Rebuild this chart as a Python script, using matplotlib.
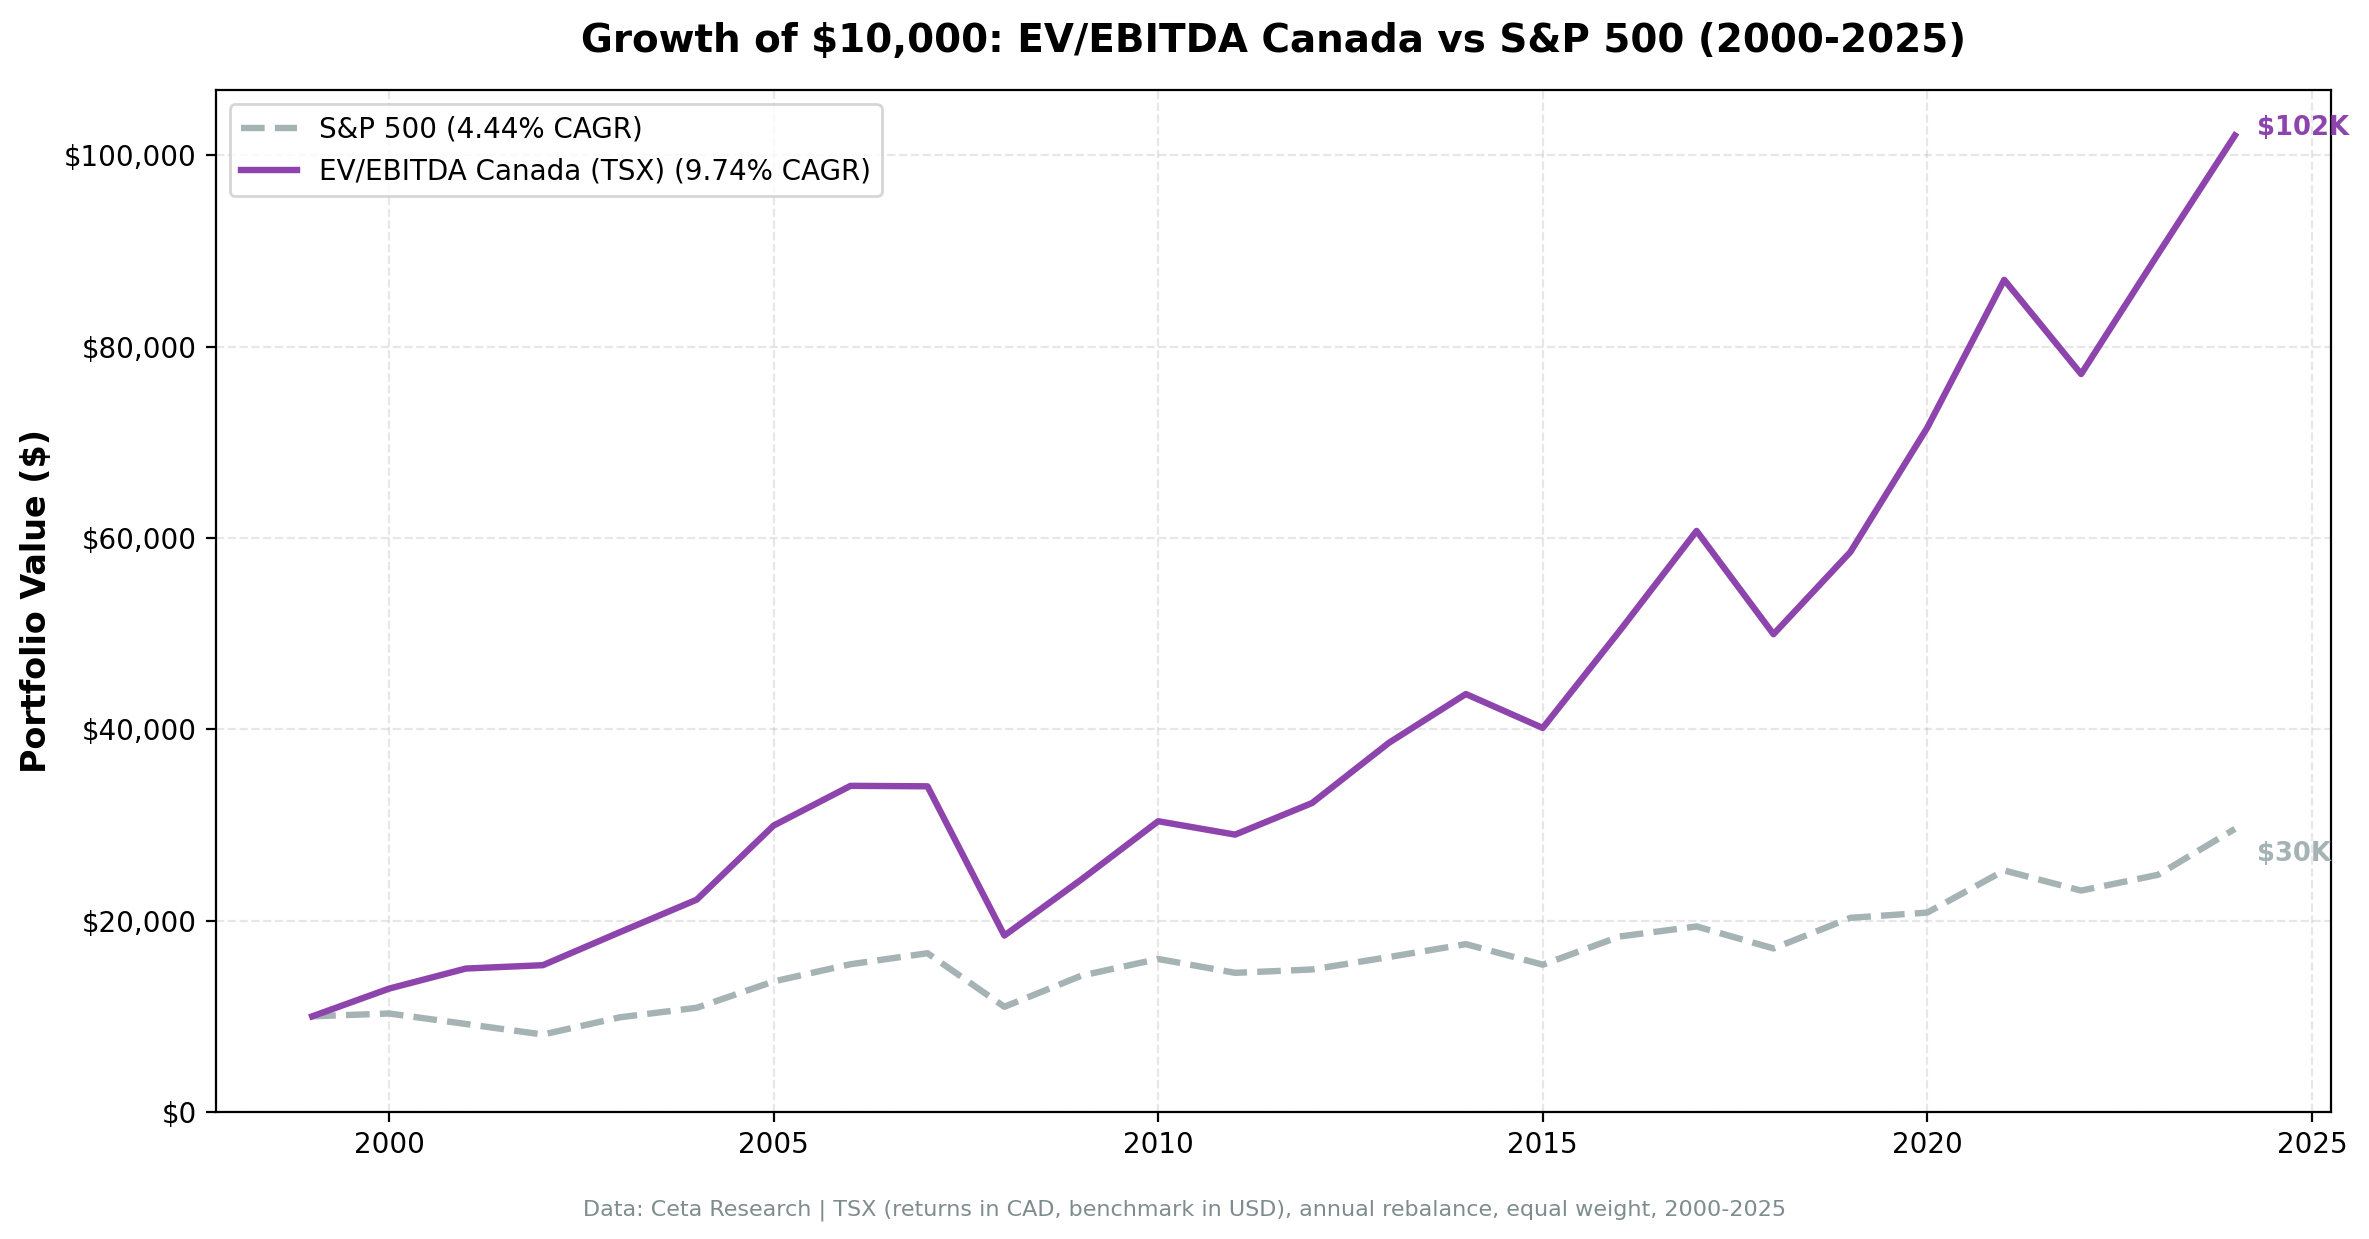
import numpy as np
import matplotlib
matplotlib.use('Agg')
import matplotlib.pyplot as plt
from matplotlib.ticker import FuncFormatter

### DATA ###
years = [1999, 2000, 2001, 2002, 2003, 2004, 2005, 2006, 2007, 2008, 2009, 2010, 2011,
         2012, 2013, 2014, 2015, 2016, 2017, 2018, 2019, 2020, 2021, 2022, 2023, 2024]
ev_ebitda = [10000, 12900, 15000, 15350, 18800, 22200, 29950, 34100, 34050, 18450, 24300, 30400,
             29000, 32300, 38600, 43700, 40150, 50300, 60750, 49950, 58550, 71550, 87000, 77150,
             89700, 102100]
sp500 = [10000, 10300, 9200, 8100, 9900, 10900, 13650, 15450, 16600, 11000, 14250, 16000,
         14550, 14900, 16200, 17550, 15400, 18350, 19400, 17100, 20300, 20850, 25250, 23150,
         24800, 29600]
sp_label = 'S&P 500 (4.44% CAGR)'
ev_label = 'EV/EBITDA Canada (TSX) (9.74% CAGR)'

ev_color = '#8E44AD'
sp_color = '#A5B3B4'

fig = plt.figure(figsize=(2369/200, 1239/200), dpi=200)
ax = fig.add_subplot(111)
fig.subplots_adjust(left=0.0912, right=0.984, top=0.927, bottom=0.1025)

ax.plot(years, sp500, '--', color=sp_color, lw=2.3, label=sp_label)
ax.plot(years, ev_ebitda, '-', color=ev_color, lw=2.3, label=ev_label)

# end labels
ax.annotate('$%dK' % round(ev_ebitda[-1]/1000), xy=(years[-1], ev_ebitda[-1]), xytext=(8, 2.5),
            textcoords='offset points', color=ev_color, fontsize=9.3, fontweight='bold', va='center')
ax.annotate('$%dK' % round(sp500[-1]/1000), xy=(years[-1], sp500[-1]), xytext=(8, -9),
            textcoords='offset points', color=sp_color, fontsize=9.3, fontweight='bold', va='center')

ax.set_ylim(bottom=0)
ax.yaxis.set_major_formatter(FuncFormatter(lambda v, p: '${:,.0f}'.format(v)))
ax.set_ylabel('Portfolio Value ($)', fontsize=12, fontweight='bold')
ax.set_title('Growth of $10,000: EV/EBITDA Canada vs S&P 500 (2000-2025)',
             fontsize=14, fontweight='bold', pad=14)
ax.grid(True, linestyle='--', alpha=0.3)
ax.legend(loc='upper left', fontsize=10)

fig.text(0.5, 0.019, 'Data: Ceta Research | TSX (returns in CAD, benchmark in USD), annual rebalance, equal weight, 2000-2025',
         ha='center', fontsize=8, color='#7F8C8D')

fig.savefig('out.png', dpi=200)
